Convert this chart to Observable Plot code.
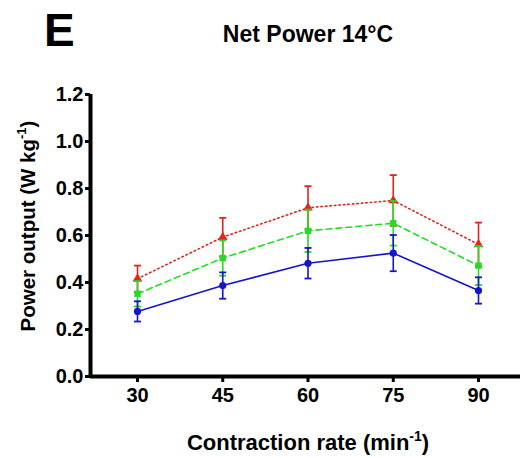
<!DOCTYPE html>
<html>
<head>
<meta charset="utf-8">
<script src="https://cdn.jsdelivr.net/npm/d3@7"></script>
<script src="https://cdn.jsdelivr.net/npm/@observablehq/plot@0.6"></script>
<style>
  html, body { margin: 0; padding: 0; background: #fff; }
</style>
</head>
<body>
<div id="chart"></div>
<script>
const rates = [30, 45, 60, 75, 90];
const xTicks = [30, 45, 60, 75, 90];
const yTicks = [0, 0.2, 0.4, 0.6, 0.8, 1.0, 1.2];

const blueMean = [0.277, 0.387, 0.482, 0.525, 0.366];
const blueErr  = [0.043, 0.056, 0.065, 0.077, 0.056];
const greenMean = [0.352, 0.504, 0.620, 0.652, 0.472];
const greenErr  = [0.054, 0.075, 0.090, 0.095, 0.083];
const redMean = [0.416, 0.593, 0.718, 0.749, 0.562];
const redErr  = [0.056, 0.082, 0.092, 0.108, 0.093];

const seriesDefs = [
  {name: "red", mean: redMean, err: redErr, color: "#e3231f", symbol: "triangle", r: 3.6, dash: "1.5,3"},
  {name: "green", mean: greenMean, err: greenErr, color: "#22dd22", symbol: "square", r: 3.6, dash: "6,4"},
  {name: "blue", mean: blueMean, err: blueErr, color: "#1414cc", symbol: "circle", r: 3.6, dash: null}
];

const cap = {draw(ctx) { ctx.moveTo(-3.5, 0); ctx.lineTo(3.5, 0); }};

const marks = [];
for (const s of seriesDefs) {
  const rows = rates.map((r, i) => ({rate: r, v: s.mean[i], lo: s.mean[i] - s.err[i], hi: s.mean[i] + s.err[i]}));
  marks.push(Plot.ruleX(rows, {x: "rate", y1: "lo", y2: "hi", stroke: s.color, strokeWidth: 1.6}));
  marks.push(Plot.dot(rows, {x: "rate", y: "hi", symbol: cap, r: 3, fill: "none", stroke: s.color, strokeWidth: 1.8}));
  marks.push(Plot.dot(rows, {x: "rate", y: "lo", symbol: cap, r: 3, fill: "none", stroke: s.color, strokeWidth: 1.8}));
  marks.push(Plot.line(rows, {x: "rate", y: "v", stroke: s.color, strokeWidth: 1.6, strokeDasharray: s.dash}));
  marks.push(Plot.dot(rows, {x: "rate", y: "v", symbol: s.symbol, r: s.r, fill: s.color, stroke: "none"}));
}

const chart = Plot.plot({
  width: 520,
  height: 458,
  marginLeft: 90,
  marginRight: 0,
  marginTop: 94,
  marginBottom: 82,
  style: {fontFamily: "'Liberation Sans', Arial, sans-serif", fontSize: "20px", fontWeight: "bold", color: "#000", background: "#fff"},
  x: {domain: [21.73, 97.39]},
  y: {domain: [0, 1.2]},
  marks: [
    Plot.axisY({ticks: yTicks, tickFormat: d3.format(".1f"), tickSize: 5, tickPadding: 2, strokeWidth: 3, label: null}),
    Plot.axisX({ticks: xTicks, tickFormat: d => String(d), tickSize: 6, tickPadding: 5, strokeWidth: 3, label: null}),
    ...marks,
    Plot.ruleX([21.73], {y1: 0, y2: 1.2, stroke: "#000", strokeWidth: 4}),
    Plot.ruleY([0], {stroke: "#000", strokeWidth: 4})
  ]
});

const svg = d3.select(chart);
const ff = "'Liberation Sans', Arial, sans-serif";

svg.append("text").attr("x", 44).attr("y", 46).attr("text-anchor", "start")
  .attr("font-family", ff).attr("font-size", 46).attr("font-weight", "bold").text("E");

svg.append("text").attr("x", 308).attr("y", 42).attr("text-anchor", "middle")
  .attr("font-family", ff).attr("font-size", 23).attr("font-weight", "bold").text("Net Power 14°C");

const yl = svg.append("text").attr("transform", "translate(35,226) rotate(-90)").attr("text-anchor", "middle")
  .attr("font-family", ff).attr("font-size", 20.5).attr("font-weight", "bold");
yl.append("tspan").text("Power output (W kg");
yl.append("tspan").attr("font-size", 13).attr("dy", -9).text("-1");
yl.append("tspan").attr("dy", 9).text(")");

const xl = svg.append("text").attr("x", 308).attr("y", 450).attr("text-anchor", "middle")
  .attr("font-family", ff).attr("font-size", 22).attr("font-weight", "bold");
xl.append("tspan").text("Contraction rate (min");
xl.append("tspan").attr("font-size", 14).attr("dy", -9).text("-1");
xl.append("tspan").attr("dy", 9).text(")");

document.getElementById("chart").appendChild(chart);
</script>
</body>
</html>
